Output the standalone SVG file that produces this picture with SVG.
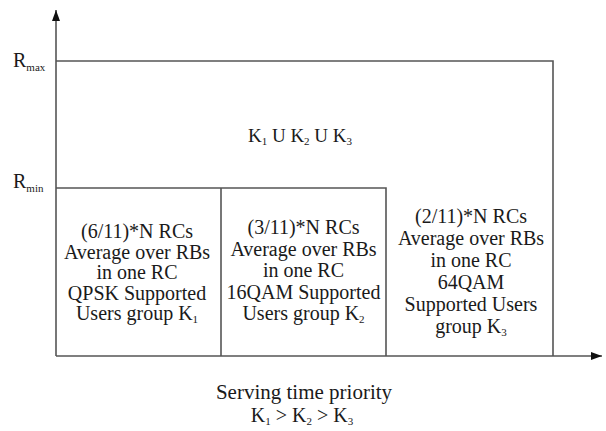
<svg xmlns="http://www.w3.org/2000/svg" width="606" height="431" viewBox="0 0 606 431">
<defs>
<marker id="arr" viewBox="0 0 11 8" refX="11" refY="4" markerWidth="11" markerHeight="8" markerUnits="userSpaceOnUse" orient="auto">
<path d="M0,0 L11,4 L0,8 Z" fill="#111"/>
</marker>
<style>
.ln{stroke:#555;stroke-width:1.6;fill:none}
.ax{stroke:#555;stroke-width:1.6;fill:none}
text{font-family:"Liberation Serif","Times New Roman",serif;font-size:20px;fill:#1a1a1a}
.c{text-anchor:middle}
.s{font-size:11px}
</style>
</defs>
<rect width="606" height="431" fill="#fff"/>
<g id="connectors">
<line class="ax" x1="56" y1="356" x2="56" y2="10" marker-end="url(#arr)"/>
<line class="ax" x1="56" y1="356" x2="602" y2="356" marker-end="url(#arr)"/>
</g>
<g id="region-all">
<polyline class="ln" points="56,61 553,61 553,356"/>
<text x="300" y="142" class="c" style="font-size:19px">K<tspan class="s" dy="3">1</tspan><tspan dy="-3"> U K</tspan><tspan class="s" dy="3">2</tspan><tspan dy="-3"> U K</tspan><tspan class="s" dy="3">3</tspan></text>
</g>
<g id="label-rmax"><text x="13" y="67">R<tspan class="s" dy="4">max</tspan></text></g>
<g id="label-rmin"><text x="13" y="188">R<tspan class="s" dy="4">min</tspan></text></g>
<g id="box-k1">
<polyline class="ln" points="56,188 386,188 386,356"/>
<text class="c" x="137" y="238">(6/11)*N RCs</text>
<text class="c" x="137" y="258.5">Average over RBs</text>
<text class="c" x="137" y="279">in one RC</text>
<text class="c" x="137" y="299.5">QPSK Supported</text>
<text class="c" x="137" y="320">Users group K<tspan class="s" dy="3">1</tspan></text>
</g>
<g id="box-k2">
<line class="ln" x1="221" y1="188" x2="221" y2="356"/>
<text class="c" x="303.5" y="234">(3/11)*N RCs</text>
<text class="c" x="303.5" y="255.5">Average over RBs</text>
<text class="c" x="303.5" y="277">in one RC</text>
<text class="c" x="303.5" y="298.5">16QAM Supported</text>
<text class="c" x="303.5" y="320">Users group K<tspan class="s" dy="3">2</tspan></text>
</g>
<g id="box-k3">
<text class="c" x="471" y="223">(2/11)*N RCs</text>
<text class="c" x="471" y="245">Average over RBs</text>
<text class="c" x="471" y="267">in one RC</text>
<text class="c" x="471" y="289">64QAM</text>
<text class="c" x="471" y="311">Supported Users</text>
<text class="c" x="471" y="333">group K<tspan class="s" dy="3">3</tspan></text>
</g>
<g id="caption">
<text class="c" x="304" y="399" style="font-size:21px">Serving time priority</text>
<text class="c" x="302" y="422">K<tspan class="s" dy="3">1</tspan><tspan dy="-3"> &gt; K</tspan><tspan class="s" dy="3">2</tspan><tspan dy="-3">  &gt; K</tspan><tspan class="s" dy="3">3</tspan></text>
</g>
</svg>
